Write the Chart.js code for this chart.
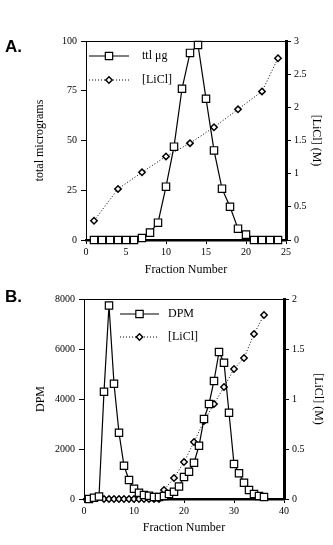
<!DOCTYPE html>
<html>
<head>
<meta charset="utf-8">
<script src="https://cdn.jsdelivr.net/npm/chart.js@4.4.0/dist/chart.umd.min.js"></script>
<style>
  html, body { margin: 0; padding: 0; background: #fff; }
  #wrap { position: relative; width: 333px; height: 545px; overflow: hidden; }
  canvas { position: absolute; left: 0; }
  .tag { position: absolute; left: 5px; font: bold 17px "Liberation Sans", Arial, sans-serif; color: #000; }
</style>
</head>
<body>
<div id="wrap">
  <canvas id="chartA" width="333" height="280" style="top:0"></canvas>
  <canvas id="chartB" width="333" height="265" style="top:280px"></canvas>
  <div class="tag" style="top:37px">A.</div>
  <div class="tag" style="top:287px">B.</div>
</div>
<script>
// Panel A: total micrograms and LiCl gradient
const fractionsA = [1, 2, 3, 4, 5, 6, 7, 8, 9, 10, 11, 12, 13, 14, 15, 16, 17, 18, 19, 20, 21, 22, 23, 24];
const ttlA = [0, 0, 0, 0, 0, 0, 1, 3.7, 8.7, 26.8, 46.9, 76, 94, 98, 71, 45, 25.8, 16.7, 5.7, 2.7, 0, 0, 0, 0];
const liclFractionsA = [1, 4, 7, 10, 13, 16, 19, 22, 24];
const liclA = [0.29, 0.77, 1.02, 1.26, 1.46, 1.70, 1.97, 2.24, 2.74];

// Panel B: DPM and LiCl gradient
const fractionsB = [1, 2, 3, 4, 5, 6, 7, 8, 9, 10, 11, 12, 13, 14, 15, 16, 17, 18,
                    19, 20, 21, 22, 23, 24, 25, 26, 27, 28, 29, 30, 31, 32, 33, 34, 35, 36];
const dpmB = [0, 50, 100, 4290, 7740, 4610, 2650, 1330, 760, 410, 250, 160, 130, 80, 80, 120, 200, 290,
              500, 880, 1090, 1450, 2130, 3200, 3800, 4720, 5880, 5450, 3450, 1400, 1030, 650, 360, 200, 120, 80];
const liclFractionsB = [4, 5, 6, 7, 8, 9, 10, 11, 12, 13, 14, 15, 16, 18, 20, 22, 24, 26, 28, 30, 32, 34, 36];
const liclB = [0, 0, 0, 0, 0, 0, 0, 0, 0, 0, 0, 0, 0.09, 0.21, 0.37, 0.57, 0.78, 0.95, 1.12, 1.30, 1.41, 1.65, 1.84];

const serif = 'Liberation Serif, Times New Roman, serif';

const toPoints = (xs, ys) => xs.map((x, i) => ({ x: x, y: ys[i] }));
const plainTick = (value) => String(value);

// draws the top frame line and the legend inside the plot
const insideLegend = {
    id: 'insideLegend',
    afterDatasetsDraw(chart, args, opts) {
        const { ctx, chartArea } = chart;
        ctx.save();
        ctx.strokeStyle = '#000';
        ctx.lineWidth = 1;
        ctx.beginPath();
        ctx.moveTo(chartArea.left, chartArea.top + 0.5);
        ctx.lineTo(chartArea.right, chartArea.top + 0.5);
        ctx.stroke();

        chart.data.datasets.forEach((ds, i) => {
            const y = opts.y + i * opts.rowGap;
            ctx.save();
            ctx.strokeStyle = '#000';
            ctx.lineWidth = ds.borderWidth;
            ctx.setLineDash(ds.borderDash || []);
            ctx.beginPath();
            ctx.moveTo(opts.x, y);
            ctx.lineTo(opts.x + opts.lineLen, y);
            ctx.stroke();
            ctx.restore();
            ctx.fillStyle = '#fff';
            ctx.strokeStyle = '#000';
            ctx.lineWidth = ds.pointBorderWidth;
            ctx.setLineDash([]);
            Chart.helpers.drawPoint(ctx, {
                pointStyle: ds.pointStyle,
                radius: ds.pointRadius,
                borderWidth: ds.pointBorderWidth,
                rotation: 0
            }, opts.x + opts.lineLen / 2, y);
            ctx.fillStyle = '#000';
            ctx.font = '12px ' + serif;
            ctx.textBaseline = 'middle';
            ctx.textAlign = 'left';
            ctx.fillText(ds.label, opts.textX, y);
        });
        ctx.restore();
    }
};

function makeChart(id, cfg) {
    const canvas = document.getElementById(id);
    if (!canvas) {
        console.warn('Canvas element not found');
        return;
    }
    new Chart(canvas.getContext('2d'), {
        type: 'line',
        data: {
            datasets: [
                {
                    label: cfg.mainLabel,
                    data: cfg.main,
                    yAxisID: 'y',
                    borderColor: '#000',
                    borderWidth: 1.2,
                    pointStyle: 'rect',
                    pointRadius: 5.2,
                    pointBorderWidth: 1.2,
                    pointBackgroundColor: '#fff',
                    pointBorderColor: '#000',
                    tension: 0,
                    clip: false
                },
                {
                    label: '[LiCl]',
                    data: cfg.licl,
                    yAxisID: 'y2',
                    borderColor: '#000',
                    borderWidth: 1,
                    borderDash: [1, 2],
                    pointStyle: 'rectRot',
                    pointRadius: 3.2,
                    pointBorderWidth: 1.5,
                    pointBackgroundColor: '#fff',
                    pointBorderColor: '#000',
                    tension: 0,
                    clip: false
                }
            ]
        },
        options: {
            responsive: false,
            animation: false,
            events: [],
            layout: { autoPadding: false, padding: { top: cfg.top, left: 0, right: 0, bottom: 0 } },
            plugins: {
                legend: { display: false },
                tooltip: { enabled: false },
                insideLegend: cfg.legend
            },
            scales: {
                x: {
                    type: 'linear',
                    position: 'bottom',
                    min: 0,
                    max: cfg.xMax,
                    afterFit: (s) => { s.height = cfg.xHeight; },
                    border: { display: true, color: '#000', width: 2.5 },
                    grid: { drawOnChartArea: false, drawTicks: true, tickLength: 4, color: '#000' },
                    ticks: { stepSize: cfg.xStep, color: '#000', padding: 2, maxRotation: 0, callback: plainTick, font: { family: serif, size: 10 } },
                    title: { display: true, text: 'Fraction Number', color: '#000', font: { family: serif, size: 12 }, padding: { top: 0, bottom: cfg.xTitlePad } }
                },
                y: {
                    type: 'linear',
                    position: 'left',
                    min: 0,
                    max: cfg.yMax,
                    afterFit: (s) => { s.width = cfg.leftW; },
                    border: { display: true, color: '#000', width: 1 },
                    grid: { drawOnChartArea: false, drawTicks: true, tickLength: 5, color: '#000' },
                    ticks: { stepSize: cfg.yStep, color: '#000', padding: 4, callback: plainTick, font: { family: serif, size: 10 } },
                    title: { display: true, text: cfg.yTitle, color: '#000', font: { family: serif, size: 12 }, padding: { top: cfg.leftTitlePad, bottom: 0 } }
                },
                y2: {
                    type: 'linear',
                    position: 'right',
                    min: 0,
                    max: cfg.y2Max,
                    afterFit: (s) => { s.width = cfg.rightW; },
                    border: { display: true, color: '#000', width: 3 },
                    grid: { drawOnChartArea: false, drawTicks: true, tickLength: 5, color: '#000' },
                    ticks: { stepSize: 0.5, color: '#000', padding: 3, callback: plainTick, font: { family: serif, size: 10 } },
                    title: { display: true, text: '[LiCl] (M)', color: '#000', font: { family: serif, size: 12 }, padding: { top: cfg.rightTitlePad, bottom: 0 } }
                }
            }
        },
        plugins: [insideLegend]
    });
}

document.addEventListener('DOMContentLoaded', function() {
    makeChart('chartA', {
        mainLabel: 'ttl μg',
        main: toPoints(fractionsA, ttlA),
        licl: toPoints(liclFractionsA, liclA),
        top: 41, xHeight: 40, leftW: 86, rightW: 47,
        xMax: 25, xStep: 5, yMax: 100, yStep: 25, y2Max: 3,
        yTitle: 'total micrograms',
        xTitlePad: 3, leftTitlePad: 33, rightTitlePad: 10,
        legend: { x: 89, y: 56, rowGap: 24, lineLen: 40, textX: 142 }
    });
    makeChart('chartB', {
        mainLabel: 'DPM',
        main: toPoints(fractionsB, dpmB),
        licl: toPoints(liclFractionsB, liclB),
        top: 19, xHeight: 46, leftW: 84, rightW: 49,
        xMax: 40, xStep: 10, yMax: 8000, yStep: 2000, y2Max: 2,
        yTitle: 'DPM',
        xTitlePad: 10, leftTitlePad: 34, rightTitlePad: 8,
        legend: { x: 120, y: 34, rowGap: 23, lineLen: 39, textX: 168 }
    });
});
</script>
</body>
</html>
